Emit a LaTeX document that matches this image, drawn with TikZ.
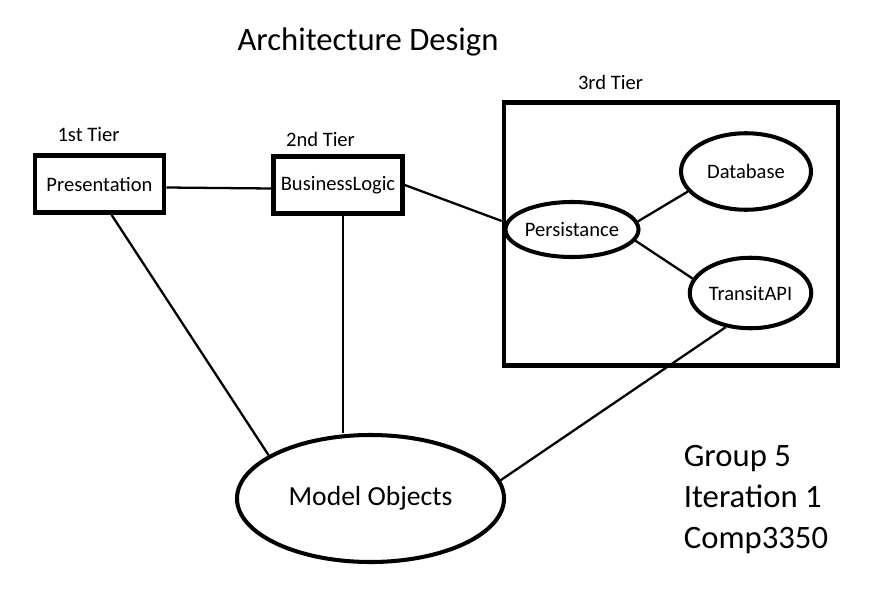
\documentclass[tikz,border=0pt]{standalone}
\usepackage{fontspec}
\setmainfont{Carlito}
\usetikzlibrary{shapes.geometric}

\begin{document}
\begin{tikzpicture}[tierbox/.style={draw=black, line width=2.6pt, minimum width=2.58cm, minimum height=1.14cm, inner sep=0pt, font=\fontsize{11.7}{13}\selectfont},
  part/.style={draw=black, ellipse, line width=2.3pt, inner sep=0pt, font=\fontsize{11.7}{13}\selectfont},
  tiername/.style={inner sep=0pt, anchor=base, font=\fontsize{11.7}{13}\selectfont},
  bigtext/.style={inner sep=0pt, font=\fontsize{18.6}{23.3}\selectfont},
  link/.style={line width=1.3pt}]
\fill[white] (0,0) rectangle (17.5,11.94);
\useasboundingbox (0,0) rectangle (17.5,11.94);

\node[bigtext, anchor=base] (title) at (7.36,10.92) {Architecture Design};

\node[tiername] (t1) at (1.77,9.12) {1st Tier};
\node[tiername] (t2) at (6.41,9.01) {2nd Tier};
\node[tiername] (t3) at (12.21,10.14) {3rd Tier};

\node[tierbox] (pres) at (1.99,8.26) {Presentation};
\node[tierbox] (biz) at (6.76,8.24) {BusinessLogic};
\node[draw=black, line width=2.6pt, minimum width=6.68cm, minimum height=5.26cm] (tier3) at (13.42,7.26) {};

\node[part, minimum width=2.3cm, minimum height=1.1cm] (pers) at (11.44,7.35) {Persistance};
\node[part, minimum width=2.6cm, minimum height=1.53cm] (db) at (14.92,8.51) {Database};
\node[part, minimum width=2.43cm, minimum height=1.41cm] (api) at (15.01,6.08) {TransitAPI};
\node[part, minimum width=5.34cm, minimum height=2.54cm, font=\fontsize{15.7}{18}\selectfont] (model) at (7.41,1.97) {Model Objects};

\node[bigtext, align=left, anchor=base west] (group) at (13.67,0.974) {Group 5\\Iteration 1\\Comp3350};

\draw[link] ([yshift=-0.07cm]pres.east) -- ([yshift=-0.07cm]biz.west);
\draw[link] ([xshift=0.24cm]pres.south) -- (model.157);
\draw[link] ([xshift=0.1cm]biz.south) -- ([xshift=0.1cm]biz.south |- model.north);
\draw[link] (biz.east) -- ([yshift=0.26cm]tier3.west);
\draw[link] (pers.7) -- (db.199);
\draw[link] (pers.-10) -- (api.166);
\draw[link] (api.234) -- (model.8);
\end{tikzpicture}
\end{document}
